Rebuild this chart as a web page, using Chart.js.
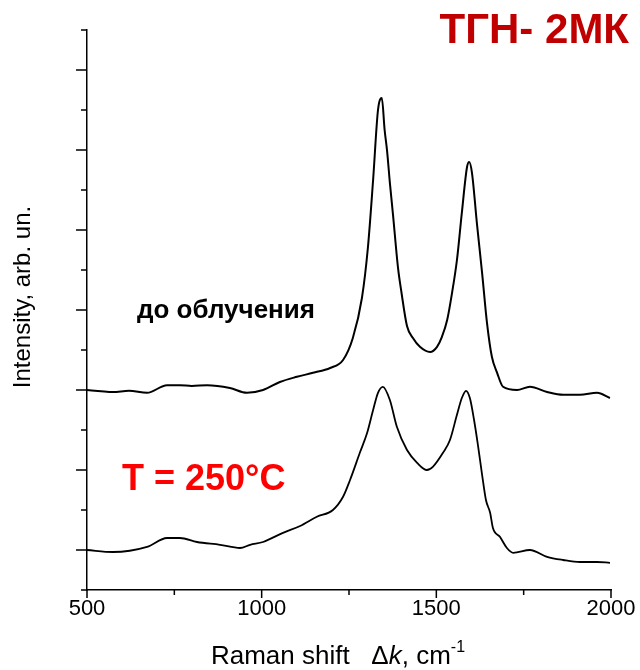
<!DOCTYPE html>
<html>
<head>
<meta charset="utf-8">
<script src="https://cdn.jsdelivr.net/npm/chart.js@4"></script>
<style>
  body { margin: 0; background: #fff; }
</style>
</head>
<body>
<canvas id="raman" width="640" height="670"></canvas>
<script>
// spectrum before irradiation (upper curve, offset baseline)
const shiftBefore = [500, 540, 574, 620, 672, 729, 766, 800, 844, 909, 958, 1004, 1052, 1101, 1147, 1196, 1233, 1261, 1287, 1304, 1319, 1333, 1344, 1352, 1359, 1367, 1376, 1390, 1400, 1416, 1433, 1453, 1482, 1502, 1516, 1531, 1545, 1559, 1573, 1588, 1594, 1602, 1616, 1631, 1645, 1659, 1674, 1691, 1731, 1768, 1817, 1863, 1911, 1960, 1997];
const intensityBefore = [5.0, 4.97, 4.95, 4.98, 4.93, 5.12, 5.12, 5.1, 5.12, 5.05, 4.93, 5.0, 5.2, 5.33, 5.43, 5.55, 5.75, 6.3, 7.3, 8.55, 10.25, 12.0, 12.3, 11.5, 10.98, 10.18, 9.38, 8.08, 7.45, 6.6, 6.3, 6.08, 5.95, 6.08, 6.33, 6.75, 7.43, 8.25, 9.43, 10.58, 10.7, 10.43, 9.18, 7.93, 6.68, 5.83, 5.43, 5.08, 5.0, 5.08, 4.95, 4.88, 4.88, 4.93, 4.8];

// spectrum after T = 250°C (lower curve)
const shift250 = [500, 574, 672, 729, 766, 815, 881, 938, 967, 1004, 1061, 1110, 1158, 1204, 1233, 1253, 1281, 1302, 1319, 1333, 1347, 1367, 1387, 1416, 1445, 1473, 1490, 1519, 1539, 1559, 1573, 1585, 1596, 1608, 1619, 1631, 1642, 1654, 1662, 1682, 1702, 1720, 1768, 1817, 1863, 1911, 1960, 1997];
const intensity250 = [1.0, 0.95, 1.08, 1.3, 1.3, 1.2, 1.13, 1.05, 1.13, 1.2, 1.43, 1.6, 1.83, 2.0, 2.33, 2.75, 3.43, 3.93, 4.5, 4.93, 5.08, 4.75, 4.08, 3.5, 3.18, 3.0, 3.08, 3.43, 3.75, 4.38, 4.8, 4.98, 4.8, 4.25, 3.63, 2.88, 2.25, 1.93, 1.55, 1.33, 1.05, 0.93, 1.0, 0.83, 0.75, 0.7, 0.7, 0.68];

const xMajor = [500, 1000, 1500, 2000];
const xMinor = [750, 1250, 1750];
const yTicks = [0, 1, 2, 3, 4, 5, 6, 7, 8, 9, 10, 11, 12, 13, 14];

const toPoints = (xs, ys) => xs.map((x, i) => ({ x: x, y: ys[i] }));
const FONT = "'Liberation Sans', Arial, sans-serif";

// tick marks, titles and labels
const decor = {
  id: "decor",
  afterDraw(chart) {
    const ctx = chart.ctx;
    const xs = chart.scales.x;
    const ys = chart.scales.y;
    const area = chart.chartArea;
    ctx.save();
    ctx.strokeStyle = "#000";
    ctx.lineWidth = 1.5;
    ctx.beginPath();
    xMajor.forEach((v) => {
      const px = xs.getPixelForValue(v);
      ctx.moveTo(px, area.bottom);
      ctx.lineTo(px, area.bottom + 8);
    });
    xMinor.forEach((v) => {
      const px = xs.getPixelForValue(v);
      ctx.moveTo(px, area.bottom);
      ctx.lineTo(px, area.bottom + 5);
    });
    yTicks.forEach((v) => {
      const py = ys.getPixelForValue(v);
      const len = v % 2 === 1 ? 11 : 6;
      ctx.moveTo(area.left, py);
      ctx.lineTo(area.left - len, py);
    });
    ctx.stroke();

    ctx.fillStyle = "#000";
    // y title
    ctx.save();
    ctx.translate(30, 297);
    ctx.rotate(-Math.PI / 2);
    ctx.font = "24px " + FONT;
    ctx.textAlign = "center";
    ctx.textBaseline = "alphabetic";
    ctx.fillText("Intensity, arb. un.", 0, 0);
    ctx.restore();

    // x title with italic k and superscript
    const base = 664;
    const f1 = "26px " + FONT;
    const f2 = "italic 26px " + FONT;
    const f3 = "16px " + FONT;
    const parts = [["Raman shift   \u0394", f1, 0], ["k", f2, 0], [", cm", f1, 0], ["-1", f3, -12]];
    let total = 0;
    parts.forEach((p) => { ctx.font = p[1]; total += ctx.measureText(p[0]).width; });
    let cx = 338 - total / 2;
    ctx.textAlign = "left";
    parts.forEach((p) => {
      ctx.font = p[1];
      ctx.fillText(p[0], cx, base + p[2]);
      cx += ctx.measureText(p[0]).width;
    });

    // annotations
    ctx.font = "bold 26px " + FONT;
    ctx.fillText("до облучения", 137, 318);
    ctx.fillStyle = "#ff0000";
    ctx.font = "bold 36px " + FONT;
    ctx.fillText("T = 250°C", 122, 490);
    ctx.fillStyle = "#c00000";
    ctx.font = "bold 42px " + FONT;
    ctx.textAlign = "right";
    ctx.fillText("ТГН- 2МК", 629, 43);
    ctx.restore();
  },
};

new Chart(document.getElementById("raman").getContext("2d"), {
  type: "line",
  data: {
    datasets: [
      {
        label: "до облучения",
        data: toPoints(shiftBefore, intensityBefore),
        borderColor: "#000",
        borderWidth: 2,
        pointRadius: 0,
        cubicInterpolationMode: "monotone",
      },
      {
        label: "T = 250°C",
        data: toPoints(shift250, intensity250),
        borderColor: "#000",
        borderWidth: 1.8,
        pointRadius: 0,
        cubicInterpolationMode: "monotone",
      },
    ],
  },
  options: {
    responsive: false,
    animation: false,
    layout: {
      padding: { top: 30, right: 29, left: 0, bottom: 0 },
    },
    plugins: {
      legend: { display: false },
      tooltip: { enabled: false },
    },
    scales: {
      x: {
        type: "linear",
        min: 500,
        max: 2000,
        afterFit: (s) => { s.height = 80; s.paddingRight = 0; s.paddingLeft = 0; },
        afterBuildTicks: (s) => { s.ticks = xMajor.map((v) => ({ value: v })); },
        grid: { display: false, drawTicks: false },
        border: { display: true, color: "#000", width: 1.5 },
        ticks: {
          color: "#000",
          padding: 6,
          maxRotation: 0,
          callback: (v) => String(v),
          font: { family: FONT, size: 22 },
        },
      },
      y: {
        min: 0,
        max: 14,
        afterFit: (s) => { s.width = 87; s.paddingTop = 0; s.paddingBottom = 0; },
        grid: { display: false, drawTicks: false },
        border: { display: true, color: "#000", width: 1.5 },
        ticks: { display: false },
      },
    },
  },
  plugins: [decor],
});
</script>
</body>
</html>
